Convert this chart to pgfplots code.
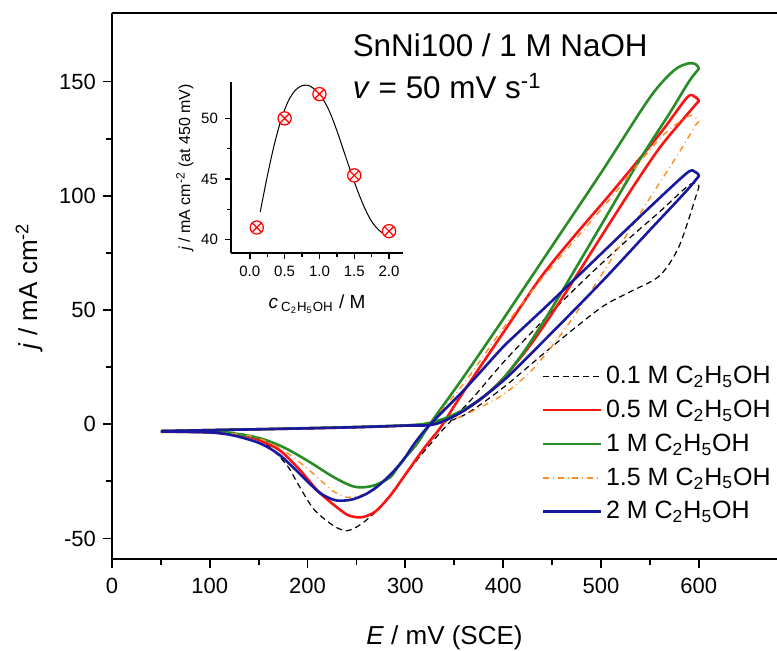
\documentclass[border=0pt]{standalone}
\usepackage{fontspec}
\setmainfont{Liberation Sans}
\usepackage{pgfplots}
\pgfplotsset{compat=1.18}
\usetikzlibrary{plotmarks}

\definecolor{cvgreen}{RGB}{40,140,40}
\definecolor{cvred}{RGB}{250,20,20}
\definecolor{cvorange}{RGB}{255,140,30}
\definecolor{cvblue}{RGB}{25,25,160}

\begin{document}
\begin{tikzpicture}
\begin{axis}[
    name=main,
    at={(0pt,0pt)}, anchor=south west,
    scale only axis,
    width=332.5pt, height=273pt,
    xmin=0, xmax=680, ymin=-59, ymax=180,
    axis x line*=box, axis y line*=left,
    xtick={0,100,...,600}, ytick={-50,0,50,100,150},
    minor x tick num=1, minor y tick num=1,
    xtick pos=left, ytick pos=left,
    tick align=outside,
    major tick length=4.5pt, minor tick length=3pt,
    every tick/.style={black, line width=0.9pt},
    axis line style={line width=1pt},
    /pgf/number format/assume math mode=true,
    tick label style={font=\fontsize{11}{13}\selectfont},
    xticklabel style={yshift=-1.5pt},
    label style={font=\fontsize{13}{15}\selectfont},
    xlabel={\textit{E} / mV (SCE)},
    ylabel={\textit{j} / mA cm\textsuperscript{-2}},
    xlabel style={yshift=-9pt},
    ylabel style={yshift=1.5pt},
    legend style={draw=none, fill=none, at={(1,0.365)}, anchor=north east,
        font=\fontsize{12.5}{15}\selectfont, row sep=2.7pt, inner sep=1pt},
    legend cell align=left,
    legend image code/.code={\draw[#1] (0pt,0pt) -- (29pt,0pt);},
]
% 0.1 M
\addplot[black, densely dashed, line width=0.6pt, smooth] coordinates {
 (50,-3.0) (100,-2.6) (150,-2.2) (200,-1.8) (250,-1.3) (300,-0.6) (330,0) (360,4)
 (400,16) (450,34) (500,51) (530,58) (560,65) (580,78) (598,101)
 (600,104.5) (596,105.5) (588,104) (560,93) (520,78) (480,62) (440,45) (400,27)
 (370,12) (350,3) (335,-4) (315,-14) (295,-25) (275,-36) (260,-42) (248,-45.5)
 (238,-46.6) (225,-44) (206,-37) (190,-26) (179,-18) (160,-9.5) (141,-5) (110,-3.5) (50,-3.2)
};
\addlegendentry{0.1 M C\textsubscript{2}H\textsubscript{5}OH}
% 0.5 M
\addplot[cvred, line width=1.3pt, smooth] coordinates {
 (50,-3.0) (100,-2.6) (150,-2.2) (200,-1.8) (250,-1.3) (300,-0.6) (320,0) (340,2)
 (360,6) (380,12) (400,20) (430,36) (460,55) (500,82) (533,104) (560,121)
 (585,134) (598,140.5) (600,141.7) (596,143.3) (588,143) (560,127) (510,101) (470,81)
 (438,64) (400,40) (370,21) (350,8) (335,-2) (320,-10) (300,-22) (285,-31) (270,-38)
 (258,-40.5) (250,-40.7) (240,-39.5) (226,-35) (210,-29) (192,-20) (170,-11) (141,-5.6)
 (110,-3.8) (80,-3.4) (50,-3.3)
};
\addlegendentry{0.5 M C\textsubscript{2}H\textsubscript{5}OH}
% 1 M
\addplot[cvgreen, line width=1.3pt, smooth] coordinates {
 (50,-3.0) (100,-2.6) (150,-2.2) (200,-1.7) (250,-1.2) (300,-0.5) (320,0.2) (340,2.5)
 (360,6.5) (380,12) (400,20) (420,31) (440,44) (460,58) (500,87) (540,116) (570,136)
 (590,150) (598,154.5) (600,155.8) (597,157.5) (590,158) (575,155) (550,143) (500,110)
 (450,78) (400,46) (360,21) (325,0) (312,-8.5) (295,-17) (285,-23) (270,-26.5)
 (257,-27.6) (245,-27) (226,-23) (200,-16) (175,-10) (150,-6) (120,-3.8) (90,-3.3) (50,-3.2)
};
\addlegendentry{1 M C\textsubscript{2}H\textsubscript{5}OH}
% 1.5 M
\addplot[cvorange, dash dot, line width=0.7pt, smooth] coordinates {
 (50,-3.0) (100,-2.6) (150,-2.2) (200,-1.8) (250,-1.3) (300,-0.6) (330,0) (360,4)
 (400,13) (430,24) (455,37) (480,52) (500,65) (550,99) (580,119) (597,131)
 (600,132.5) (596,134.5) (588,134.5) (560,125) (510,99) (470,79) (438,63) (400,42)
 (360,18) (325,0) (295,-17) (267,-29) (250,-31.5) (240,-32) (225,-29) (209.5,-23)
 (190,-16) (170,-10) (145,-5.5) (110,-3.7) (50,-3.2)
};
\addlegendentry{1.5 M C\textsubscript{2}H\textsubscript{5}OH}
% 2 M
\addplot[cvblue, line width=1.3pt, smooth] coordinates {
 (50,-3.0) (100,-2.6) (150,-2.2) (200,-1.8) (250,-1.3) (300,-0.6) (330,0) (360,6)
 (400,19) (445,38) (500,62) (550,85) (585,101) (598,107.5) (600,109) (596,110.5)
 (588,110) (550,95) (506,77) (450,54) (410,38) (397,32.5) (360,15) (325.5,0)
 (310,-8) (295,-17.3) (275,-26) (260,-30.5) (245,-33) (230,-33.4) (218,-31.5)
 (209.5,-29) (195,-23) (185,-18.8) (170,-13) (151.5,-8.4) (125,-5) (100,-3.6) (50,-3.2)
};
\addlegendentry{2 M C\textsubscript{2}H\textsubscript{5}OH}

\node[anchor=west, font=\fontsize{15.7}{17}\selectfont] at (axis cs:239,166) {SnNi100 / 1 M NaOH};
\node[anchor=west, font=\fontsize{15.7}{17}\selectfont] at (axis cs:239,148) {\textit{v} = 50 mV s\textsuperscript{-1}};
\end{axis}

\begin{axis}[
    at={(59.5pt,153pt)}, anchor=south west,
    scale only axis,
    width=86pt, height=85.5pt,
    xmin=-0.27, xmax=2.2, ymin=38.9, ymax=53,
    axis lines*=left,
    xtick={0,0.5,...,2}, ytick={40,45,50},
    minor x tick num=1, minor y tick num=1,
    tick align=outside,
    major tick length=3pt, minor tick length=2pt,
    every tick/.style={black, line width=0.7pt},
    axis line style={line width=0.8pt},
    /pgf/number format/assume math mode=true,
    xticklabel style={/pgf/number format/.cd, fixed, fixed zerofill, precision=1},
    tick label style={font=\fontsize{7.5}{9}\selectfont},
    xlabel={\textit{c}\,\textsubscript{C\textsubscript{2}H\textsubscript{5}OH} / M},
    ylabel={\textit{j} / mA cm\textsuperscript{-2} (at 450 mV)},
    xlabel style={font=\fontsize{9.5}{11}\selectfont, yshift=-2pt},
    ylabel style={font=\fontsize{8}{10}\selectfont, yshift=-3pt},
]
\addplot[black, line width=0.5pt, smooth] coordinates {
 (0.15,42.3) (0.25,45.2) (0.35,47.8) (0.45,49.9) (0.55,51.4) (0.65,52.3) (0.75,52.7)
 (0.85,52.7) (0.95,52.3) (1.05,51.6) (1.15,50.5) (1.25,49.0) (1.35,47.3) (1.45,45.6)
 (1.55,44.0) (1.65,42.6) (1.75,41.5) (1.85,40.8) (1.92,40.5)
};
\addplot[only marks, mark=otimes*, mark size=3.3pt,
    mark options={draw=red, fill=red!6, line width=0.6pt}] coordinates {
 (0.1,41.0) (0.5,50.0) (1.0,52.0) (1.5,45.3) (2.0,40.7)
};
\end{axis}

\pgfresetboundingbox
\path (-56pt,-45.5pt) rectangle (332.5pt,279.5pt);
\end{tikzpicture}
\end{document}
